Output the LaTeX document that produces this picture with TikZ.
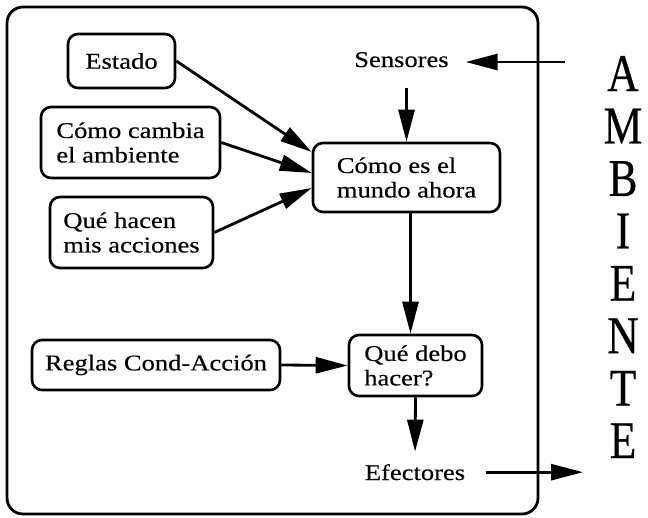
\documentclass[tikz,border=0pt]{standalone}
\usepackage{fontspec}
\setmainfont{Liberation Serif}
\newfontfamily\boxfont[FakeStretch=1.18,FakeBold=0.4]{Liberation Serif}
\newfontfamily\ambfont[FakeStretch=0.82,FakeBold=0.4]{Liberation Serif}
\usetikzlibrary{arrows.meta}
\begin{document}
\begin{tikzpicture}[x=1pt,y=-1pt,
  box/.style={draw, line width=2.6pt, rounded corners=10pt, inner sep=0pt, align=left,
              font=\boxfont\fontsize{22.5}{24.5}\selectfont},
  lbl/.style={inner sep=3.333pt, font=\boxfont\fontsize{22.5}{24.5}\selectfont},
  amb/.style={inner sep=0pt, font=\ambfont\fontsize{53}{60}\selectfont},
  arr/.style={line width=2.8pt, -{Triangle[length=32pt,width=16pt]}},
  frame/.style={line width=2.8pt, rounded corners=16pt}]
\useasboundingbox (0,0) rectangle (648,517);
\draw[frame] (7,7) rectangle (538,514);

\node[box, minimum width=107pt, minimum height=54pt] (estado) at (121.5,61) {Estado};
\node[box, minimum width=179pt, minimum height=71pt] (cambia) at (130.5,142.5) {Cómo cambia\\el ambiente};
\node[box, minimum width=163pt, minimum height=71pt] (hacen) at (131.5,232.5) {Qué hacen\\mis acciones};
\node[box, minimum width=187pt, minimum height=69pt] (mundo) at (406.5,177.5) {Cómo es el\\mundo ahora};
\node[box, minimum width=133pt, minimum height=61pt] (quedebo) at (415.5,365.5) {Qué debo\\hacer?};
\node[box, minimum width=248pt, minimum height=50pt] (reglas) at (156,365) {Reglas Cond-Acción};
\node[lbl, anchor=base] (sensores) at (401.5,67) {Sensores};
\node[lbl, anchor=base] (efectores) at (415,480) {Efectores};

\foreach \l [count=\i] in {A,M,B,I,E,N,T,E}
  \node[amb, anchor=base] (amb\i) at (623,{91+52.43*(\i-1)}) {\l};

\draw[arr] (estado.east) -- ([yshift=25.5pt]mundo.west);
\draw[arr] (cambia.east) -- ([yshift=4.5pt]mundo.west);
\draw[arr] (hacen.east) -- ([yshift=-10.5pt]mundo.west);

\coordinate (envin) at (565,62);
\draw[arr, shorten >=13.5pt] (envin) -- (envin -| sensores.east);
\draw[arr, shorten <=17pt] (mundo.north |- sensores.south) -- (mundo.north);

\coordinate (qn) at ([xshift=-5pt]quedebo.north);
\draw[arr] (qn |- mundo.south) -- (qn);
\draw[arr] (reglas.east) -- (quedebo.west);
\draw[arr, shorten >=9pt] (quedebo.south) -- (efectores.north);

\coordinate (envout) at (583,474);
\draw[arr, shorten <=17pt] (efectores.east) -- (envout |- efectores.east);
\end{tikzpicture}
\end{document}
